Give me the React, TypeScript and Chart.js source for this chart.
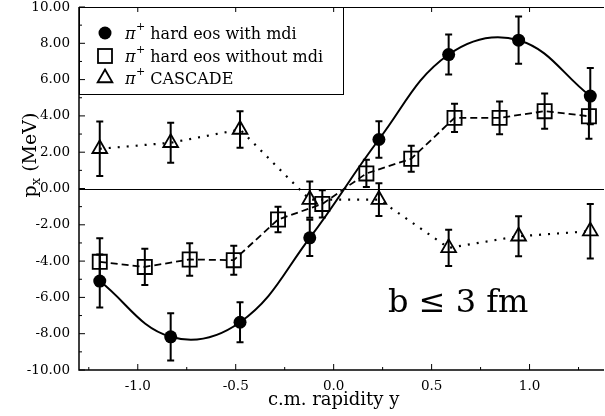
import React, { useEffect, useRef } from 'react';
import { Chart, registerables } from 'chart.js';

Chart.register(...registerables);

const FONT = '"DejaVu Serif", serif';

// x axis: c.m. rapidity y ; y axis: p_x (MeV)
const xMajorTicks = [-1.0, -0.5, 0.0, 0.5, 1.0];
const xMinorTicks = [-1.25, -0.75, -0.25, 0.25, 0.75, 1.25];
const yMajorTicks = [-10, -8, -6, -4, -2, 0, 2, 4, 6, 8, 10];
const yMinorTicks = [-9, -7, -5, -3, -1, 1, 3, 5, 7, 9];

const seriesNames = ['hard eos with mdi', 'hard eos without mdi', 'CASCADE'];

const rapidityWith = [-1.194, -0.832, -0.478, -0.122, 0.231, 0.587, 0.944, 1.31];
const pxWith = [-5.1, -8.17, -7.37, -2.72, 2.7, 7.38, 8.17, 5.09];
const errWith = [1.46, 1.3, 1.1, 1.0, 1.0, 1.1, 1.3, 1.55];

const rapidityWithout = [-1.194, -0.964, -0.735, -0.51, -0.284, -0.058, 0.167, 0.396, 0.617, 0.847, 1.077, 1.303];
const pxWithout = [-4.04, -4.32, -3.91, -3.95, -1.71, -0.85, 0.83, 1.64, 3.89, 3.89, 4.26, 3.98];
const errWithout = [1.3, 1.0, 0.9, 0.8, 0.7, 0.75, 0.75, 0.72, 0.78, 0.9, 0.97, 1.24];

const rapidityCascade = [-1.194, -0.832, -0.478, -0.122, 0.231, 0.587, 0.944, 1.31];
const pxCascade = [2.19, 2.52, 3.25, -0.61, -0.61, -3.27, -2.63, -2.35];
const errCascade = [1.5, 1.1, 1.0, 1.0, 0.9, 1.0, 1.1, 1.5];

const errorSets = [
  { xs: rapidityWith, ys: pxWith, errs: errWith },
  { xs: rapidityWithout, ys: pxWithout, errs: errWithout },
  { xs: rapidityCascade, ys: pxCascade, errs: errCascade },
];

const toPoints = (xs: number[], ys: number[]) => xs.map((x, i) => ({ x, y: ys[i] }));

const decorPlugin = {
  id: 'decor',
  beforeDatasetsDraw(chart: any) {
    const { ctx, chartArea: a, scales } = chart;
    const xs = scales.x;
    const ys = scales.y;
    ctx.save();
    ctx.strokeStyle = '#000';
    // zero line
    ctx.lineWidth = 1;
    const y0 = Math.round(ys.getPixelForValue(0)) + 0.5;
    ctx.beginPath();
    ctx.moveTo(a.left, y0);
    ctx.lineTo(a.right, y0);
    ctx.stroke();
    // frame: left, bottom, top
    ctx.lineWidth = 1.5;
    ctx.beginPath();
    ctx.moveTo(a.left, a.top);
    ctx.lineTo(a.left, a.bottom);
    ctx.lineTo(a.right, a.bottom);
    ctx.stroke();
    ctx.lineWidth = 1;
    ctx.beginPath();
    ctx.moveTo(a.left, a.top + 0.5);
    ctx.lineTo(a.right, a.top + 0.5);
    ctx.stroke();
    // inward ticks
    ctx.lineWidth = 1;
    ctx.beginPath();
    xMajorTicks.forEach((v) => {
      const px = xs.getPixelForValue(v);
      ctx.moveTo(px, a.bottom);
      ctx.lineTo(px, a.bottom - 6);
      ctx.moveTo(px, a.top);
      ctx.lineTo(px, a.top + 5);
    });
    xMinorTicks.forEach((v) => {
      const px = xs.getPixelForValue(v);
      ctx.moveTo(px, a.bottom);
      ctx.lineTo(px, a.bottom - 3);
    });
    yMajorTicks.forEach((v) => {
      const py = ys.getPixelForValue(v);
      ctx.moveTo(a.left, py);
      ctx.lineTo(a.left + 6, py);
    });
    yMinorTicks.forEach((v) => {
      const py = ys.getPixelForValue(v);
      ctx.moveTo(a.left, py);
      ctx.lineTo(a.left + 3, py);
    });
    ctx.stroke();
    ctx.restore();
  },
  afterDatasetsDraw(chart: any) {
    const { ctx, scales } = chart;
    const xs = scales.x;
    const ys = scales.y;
    ctx.save();
    ctx.strokeStyle = '#000';
    ctx.lineWidth = 2;
    ctx.setLineDash([]);
    errorSets.forEach((s) => {
      s.xs.forEach((xv, i) => {
        const px = xs.getPixelForValue(xv);
        const pTop = ys.getPixelForValue(s.ys[i] + s.errs[i]);
        const pBot = ys.getPixelForValue(s.ys[i] - s.errs[i]);
        ctx.beginPath();
        ctx.moveTo(px, pTop);
        ctx.lineTo(px, pBot);
        ctx.moveTo(px - 3.5, pTop);
        ctx.lineTo(px + 3.5, pTop);
        ctx.moveTo(px - 3.5, pBot);
        ctx.lineTo(px + 3.5, pBot);
        ctx.stroke();
      });
    });
    ctx.restore();
  },
  afterDraw(chart: any) {
    const { ctx, chartArea: a, scales } = chart;
    ctx.save();
    ctx.fillStyle = '#000';
    ctx.strokeStyle = '#000';
    // legend box
    ctx.lineWidth = 1;
    ctx.strokeRect(a.left + 0.5, a.top + 0.5, 264, 87);
    const rows = [33, 56, 78];
    const mx = 105;
    // circle
    ctx.beginPath();
    ctx.arc(mx, rows[0], 6.5, 0, Math.PI * 2);
    ctx.fill();
    // square
    ctx.lineWidth = 1.8;
    ctx.strokeRect(mx - 7, rows[1] - 7, 14, 14);
    // triangle
    ctx.beginPath();
    const r = 8.5;
    ctx.moveTo(mx, rows[2] - r);
    ctx.lineTo(mx + r * Math.sin((2 * Math.PI) / 3), rows[2] - r * Math.cos((2 * Math.PI) / 3));
    ctx.lineTo(mx + r * Math.sin((4 * Math.PI) / 3), rows[2] - r * Math.cos((4 * Math.PI) / 3));
    ctx.closePath();
    ctx.stroke();
    // legend texts
    ctx.textBaseline = 'alphabetic';
    ctx.textAlign = 'left';
    seriesNames.forEach((name, i) => {
      const base = rows[i] + 5.5;
      let x = 125;
      ctx.font = `italic 16px ${FONT}`;
      ctx.fillText('π', x, base);
      x += ctx.measureText('π').width + 0.5;
      ctx.font = `11px ${FONT}`;
      ctx.fillText('+', x, base - 9);
      x += ctx.measureText('+').width;
      ctx.font = `16px ${FONT}`;
      ctx.fillText(' ' + name, x, base);
    });
    // annotation
    ctx.font = `32px ${FONT}`;
    ctx.fillText('b ≤ 3 fm', 388, 312);
    // x title
    ctx.font = `18px ${FONT}`;
    ctx.textAlign = 'center';
    ctx.fillText('c.m. rapidity y', scales.x.getPixelForValue(0), 405);
    // y title with subscript
    ctx.save();
    ctx.translate(36, 155);
    ctx.rotate(-Math.PI / 2);
    ctx.textAlign = 'left';
    ctx.font = `19px ${FONT}`;
    const wP = ctx.measureText('p').width;
    ctx.font = `13px ${FONT}`;
    const wX = ctx.measureText('x').width;
    ctx.font = `19px ${FONT}`;
    const wRest = ctx.measureText(' (MeV)').width;
    let tx = -(wP + wX + wRest) / 2;
    ctx.fillText('p', tx, 0);
    tx += wP;
    ctx.font = `13px ${FONT}`;
    ctx.fillText('x', tx, 4);
    tx += wX;
    ctx.font = `19px ${FONT}`;
    ctx.fillText(' (MeV)', tx, 0);
    ctx.restore();
    ctx.restore();
  },
};

const zeroPad = (s: any) => {
  s.paddingLeft = 0;
  s.paddingRight = 0;
  s.paddingTop = 0;
  s.paddingBottom = 0;
};

export default function App() {
  const ref = useRef<HTMLCanvasElement>(null);
  useEffect(() => {
    document.body.style.margin = '0';
    const chart = new Chart(ref.current!, {
      type: 'line',
      data: {
        datasets: [
          {
            label: seriesNames[0],
            data: toPoints(rapidityWith, pxWith),
            borderColor: '#000',
            borderWidth: 2,
            tension: 0.4,
            pointStyle: 'circle',
            pointRadius: 6.5,
            pointBackgroundColor: '#000',
            pointBorderColor: '#000',
            pointBorderWidth: 0,
            fill: false,
          },
          {
            label: seriesNames[1],
            data: toPoints(rapidityWithout, pxWithout),
            borderColor: '#000',
            borderWidth: 1.8,
            borderDash: [7, 4],
            tension: 0,
            pointStyle: 'rect',
            pointRadius: 10,
            pointBackgroundColor: 'rgba(0,0,0,0)',
            pointBorderColor: '#000',
            pointBorderWidth: 1.8,
            fill: false,
          },
          {
            label: seriesNames[2],
            data: toPoints(rapidityCascade, pxCascade),
            borderColor: '#000',
            borderWidth: 2.2,
            borderDash: [2, 7],
            tension: 0,
            pointStyle: 'triangle',
            pointRadius: 8.5,
            pointBackgroundColor: 'rgba(0,0,0,0)',
            pointBorderColor: '#000',
            pointBorderWidth: 1.8,
            fill: false,
          },
        ],
      },
      options: {
        responsive: false,
        animation: false,
        layout: { autoPadding: false, padding: { top: 7, right: 1, left: 0, bottom: 0 } },
        plugins: { legend: { display: false }, tooltip: { enabled: false } },
        scales: {
          x: {
            type: 'linear',
            min: -1.3,
            max: 1.38,
            afterBuildTicks: (s: any) => {
              s.ticks = xMajorTicks.map((value) => ({ value }));
            },
            afterFit: (s: any) => {
              s.height = 46;
              zeroPad(s);
            },
            ticks: {
              callback: (v: any) => Number(v).toFixed(1),
              font: { family: FONT, size: 13.5 },
              color: '#000',
              padding: 8,
              maxRotation: 0,
              autoSkip: false,
            },
            grid: { display: false, drawTicks: false },
            border: { display: false },
          },
          y: {
            type: 'linear',
            min: -10,
            max: 10,
            afterBuildTicks: (s: any) => {
              s.ticks = yMajorTicks.map((value) => ({ value }));
            },
            afterFit: (s: any) => {
              s.width = 79;
              zeroPad(s);
            },
            ticks: {
              callback: (v: any) => Number(v).toFixed(2),
              font: { family: FONT, size: 13.5 },
              color: '#000',
              padding: 9,
              autoSkip: false,
            },
            grid: { display: false, drawTicks: false },
            border: { display: false },
          },
        },
      },
      plugins: [decorPlugin],
    });
    return () => chart.destroy();
  }, []);
  return (
    <div style={{ width: 605, height: 416 }}>
      <canvas ref={ref} width={605} height={416} style={{ display: 'block' }} />
    </div>
  );
}
